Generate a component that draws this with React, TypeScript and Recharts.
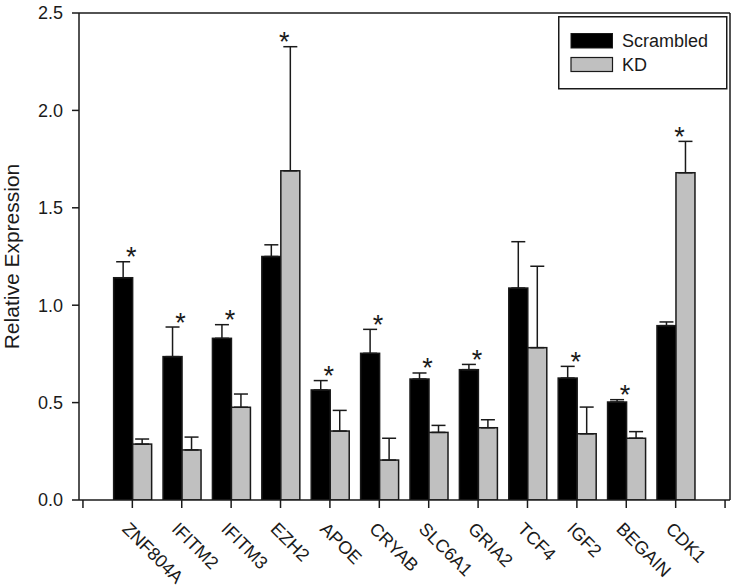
import React from 'react';
import { BarChart, Bar, XAxis, YAxis, ErrorBar, ReferenceLine, Legend, Label } from 'recharts';

const categories = ['ZNF804A', 'IFITM2', 'IFITM3', 'EZH2', 'APOE', 'CRYAB', 'SLC6A1', 'GRIA2', 'TCF4', 'IGF2', 'BEGAIN', 'CDK1'];
const scrambled = [1.141, 0.736, 0.83, 1.25, 0.565, 0.753, 0.621, 0.669, 1.088, 0.626, 0.503, 0.895];
const scrambledErr = [0.082, 0.152, 0.07, 0.06, 0.048, 0.123, 0.031, 0.027, 0.238, 0.06, 0.012, 0.019];
const kd = [0.287, 0.257, 0.476, 1.69, 0.354, 0.205, 0.347, 0.371, 0.782, 0.34, 0.317, 1.68];
const kdErr = [0.026, 0.066, 0.068, 0.637, 0.106, 0.112, 0.036, 0.041, 0.418, 0.137, 0.034, 0.161];
const scrambledSig = [true, true, true, false, true, true, true, true, false, true, true, false];
const kdSig = [false, false, false, true, false, false, false, false, false, false, false, true];
const yTicks = [0, 0.5, 1.0, 1.5, 2.0, 2.5];
const xTicks = [0, 1, 2, 3, 4, 5, 6, 7, 8, 9, 10, 11, 12, 13];

const data = categories.map((name, i) => ({
  name,
  pos: i + 1,
  scrambled: scrambled[i],
  scrambledErr: [0, scrambledErr[i]],
  scrambledSig: scrambledSig[i],
  scrambledE: scrambledErr[i],
  kd: kd[i],
  kdErr: [0, kdErr[i]],
  kdSig: kdSig[i],
  kdE: kdErr[i],
}));

const FONT = '"Liberation Sans", Arial, Helvetica, sans-serif';
const INK = '#1a1a1a';
const GREY = '#c0c0c0';
const X_DOMAIN_MIN = -0.08;
const X_DOMAIN_MAX = 13.1;

const makeShape = (valKey: string, errKey: string, sigKey: string, starDx: (x: number, w: number) => number) => (props: any) => {
  const { x, y, width, height, fill, payload } = props;
  const val = payload[valKey];
  const err = payload[errKey];
  const perUnit = val ? height / val : 0;
  const errTop = y - err * perUnit;
  return (
    <g>
      <rect x={x} y={y} width={width} height={height} fill={fill} stroke={INK} strokeWidth={1.5} />
      {payload[sigKey] ? (
        <text x={starDx(x, width)} y={errTop + 4.5} textAnchor="middle" fontSize={27} fontFamily={FONT} fill={INK}>*</text>
      ) : null}
    </g>
  );
};

const scrShape = makeShape('scrambled', 'scrambledE', 'scrambledSig', (x, w) => x + w - 1.5);
const kdShape = makeShape('kd', 'kdE', 'kdSig', (x) => x + 3.5);

const XTick = (props: any) => {
  const { x, y, payload } = props;
  const label = categories[payload.value - 1] ?? '';
  const ax = x - 11;
  const ay = y + 20;
  return (
    <text x={ax} y={ay} transform={`rotate(45 ${ax} ${ay})`} textAnchor="start" fontSize={18} fontFamily={FONT} fill={INK}>
      {label}
    </text>
  );
};

const renderLegend = () => (
  <svg width={170} height={74} style={{ display: 'block' }}>
    <rect x={0.75} y={0.75} width={168} height={72} fill="#fff" stroke={INK} strokeWidth={1.5} />
    <rect x={13} y={17.5} width={41.5} height={14.5} fill="#000" stroke={INK} strokeWidth={1} />
    <text x={64} y={30.5} fontSize={18} fontFamily={FONT} fill={INK}>Scrambled</text>
    <rect x={13} y={41.5} width={41.5} height={14} fill={GREY} stroke={INK} strokeWidth={1.2} />
    <text x={64} y={54.5} fontSize={18} fontFamily={FONT} fill={INK}>KD</text>
  </svg>
);

export default function App() {
  return (
    <div style={{ position: 'absolute', left: 0, top: 0, width: 740, height: 588, background: '#fff' }}>
      <BarChart
        width={740}
        height={588}
        data={data}
        margin={{ top: 13, right: 10, left: 0, bottom: 0 }}
        barGap={0}
        barSize={19}
      >
        <XAxis
          dataKey="pos"
          type="number"
          domain={[X_DOMAIN_MIN, X_DOMAIN_MAX]}
          ticks={xTicks}
          interval={0}
          height={88}
          tickSize={8}
          tickMargin={2}
          tick={<XTick />}
          axisLine={{ stroke: INK, strokeWidth: 1.5 }}
          tickLine={{ stroke: INK, strokeWidth: 1.5 }}
          allowDataOverflow
        />
        <YAxis
          type="number"
          domain={[0, 2.5]}
          ticks={yTicks}
          width={79}
          tickSize={7}
          tickMargin={9}
          tickFormatter={(v: number) => v.toFixed(1)}
          tick={{ fontSize: 18, fontFamily: FONT, fill: INK }}
          axisLine={{ stroke: INK, strokeWidth: 1.5 }}
          tickLine={{ stroke: INK, strokeWidth: 1.5 }}
          allowDataOverflow
        >
          <Label
            content={() => (
              <text x={19} y={256.5} transform="rotate(-90 19 256.5)" textAnchor="middle" fontSize={21} fontFamily={FONT} fill={INK}>
                Relative Expression
              </text>
            )}
          />
        </YAxis>
        <ReferenceLine y={2.5} stroke={INK} strokeWidth={1.5} />
        <ReferenceLine x={X_DOMAIN_MAX} stroke={INK} strokeWidth={1.5} />
        <Legend
          content={renderLegend}
          layout="horizontal"
          verticalAlign="middle"
          align="center"
          wrapperStyle={{ position: 'absolute', left: 558, top: 16, width: 170, height: 74 }}
        />
        <Bar dataKey="scrambled" name="Scrambled" fill="#000" shape={scrShape} isAnimationActive={false}>
          <ErrorBar dataKey="scrambledErr" direction="y" width={7} stroke={INK} strokeWidth={1.5} />
        </Bar>
        <Bar dataKey="kd" name="KD" fill={GREY} shape={kdShape} isAnimationActive={false}>
          <ErrorBar dataKey="kdErr" direction="y" width={7} stroke={INK} strokeWidth={1.5} />
        </Bar>
      </BarChart>
    </div>
  );
}
